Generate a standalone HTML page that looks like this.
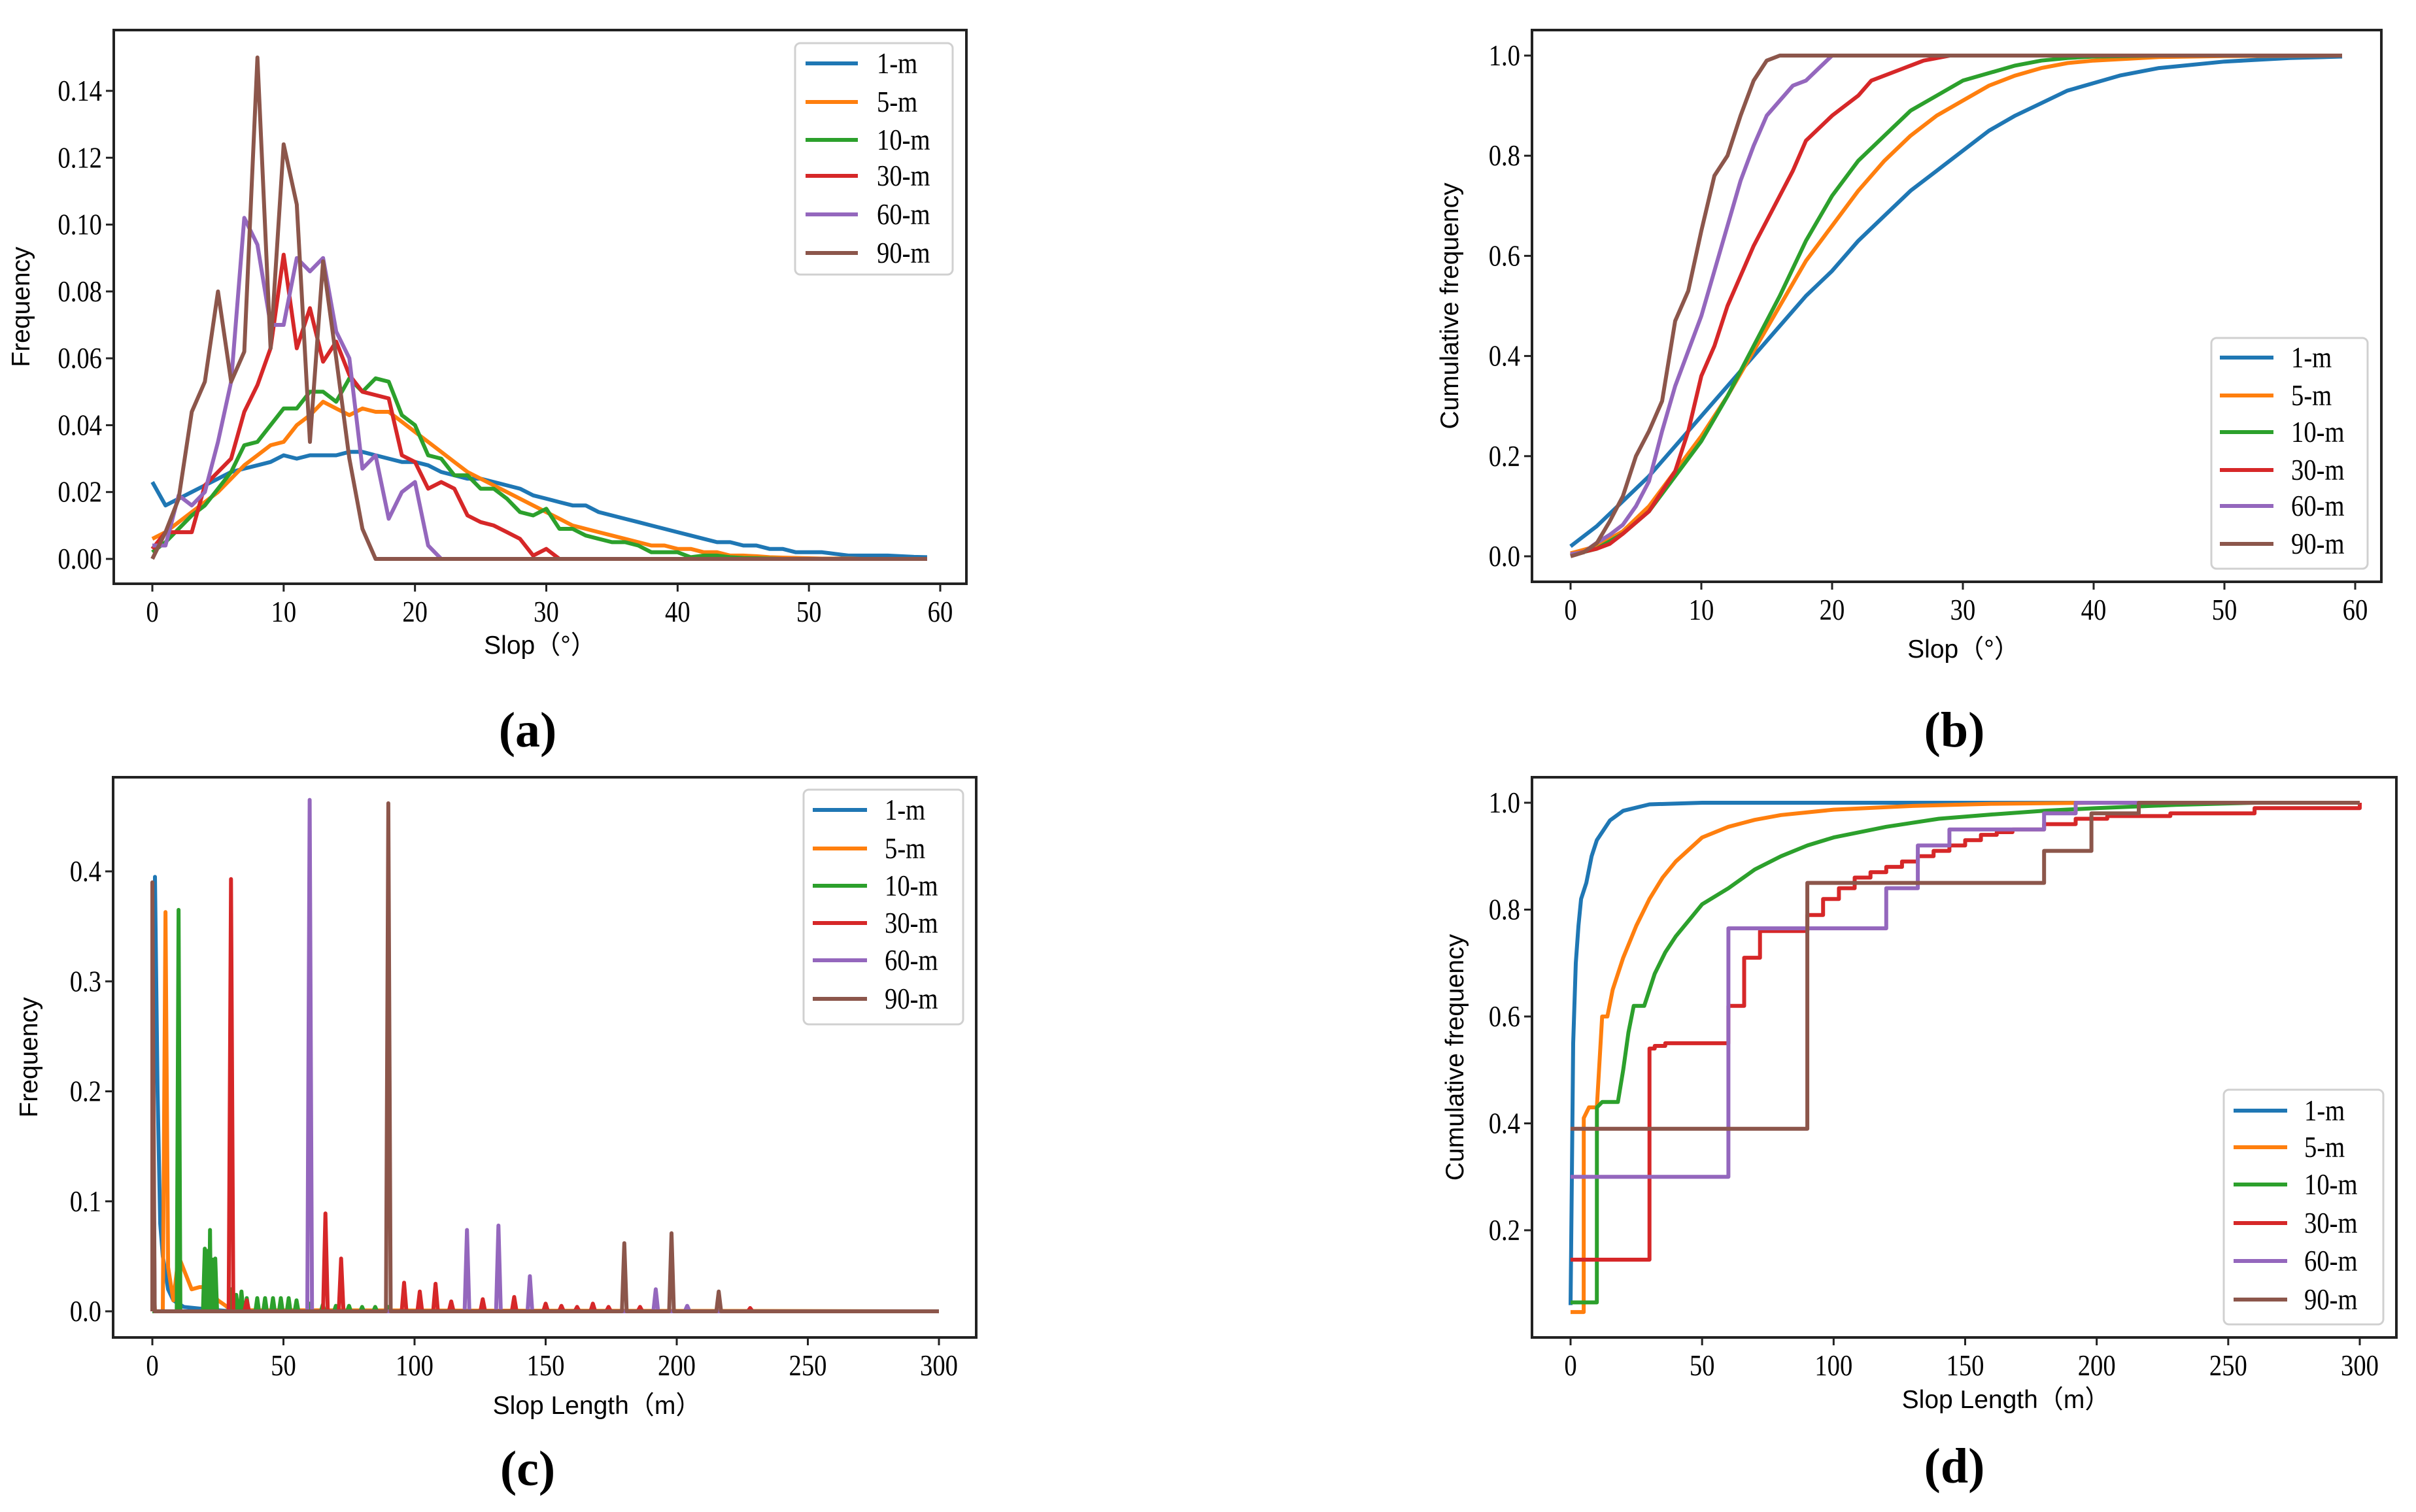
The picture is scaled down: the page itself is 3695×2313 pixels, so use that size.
<!DOCTYPE html>
<html><head><meta charset="utf-8"><style>
html,body{margin:0;padding:0;background:#fff;}
svg{display:block;}
.tk{font-family:"Liberation Serif",serif;font-size:46px;fill:#000;}
.lg{font-family:"Liberation Serif",serif;font-size:46px;fill:#000;}
.al{font-family:"Liberation Sans","Noto Sans CJK SC",sans-serif;font-size:39px;fill:#000;}
.pl{font-family:"Liberation Serif",serif;font-size:76px;font-weight:bold;fill:#000;}
</style></head><body>
<svg id="fig" width="3695" height="2313" viewBox="0 0 3695 2313" xmlns="http://www.w3.org/2000/svg"></svg>
<script>
// ---------- data ----------
const seriesNames = ["1-m","5-m","10-m","30-m","60-m","90-m"];
const colors = ["#1f77b4","#ff7f0e","#2ca02c","#d62728","#9467bd","#8c564b"];

// Panel (a): frequency at slope 0..59
const slopeA = Array.from({length:60},(_,i)=>i);
const freqA1 = [0.023,0.016,0.018,0.020,0.022,0.024,0.026,0.027,0.028,0.029,0.031,0.030,0.031,0.031,0.031,0.032,0.032,0.031,0.030,0.029,0.029,0.028,0.026,0.025,0.024,0.024,0.023,0.022,0.021,0.019,0.018,0.017,0.016,0.016,0.014,0.013,0.012,0.011,0.010,0.009,0.008,0.007,0.006,0.005,0.005,0.004,0.004,0.003,0.003,0.002,0.002,0.002,0.0015,0.001,0.001,0.001,0.001,0.0008,0.0006,0.0005];
const freqA5 = [0.006,0.008,0.011,0.014,0.017,0.020,0.024,0.028,0.031,0.034,0.035,0.040,0.043,0.047,0.045,0.043,0.045,0.044,0.044,0.041,0.038,0.035,0.032,0.029,0.026,0.024,0.022,0.020,0.018,0.016,0.014,0.012,0.010,0.009,0.008,0.007,0.006,0.005,0.004,0.004,0.003,0.003,0.002,0.002,0.001,0.001,0.0008,0.0005,0.0004,0.0003,0.0002,0.0001,0.0001,0.0001,0,0,0,0,0,0];
const freqA10 = [0.002,0.005,0.009,0.013,0.016,0.021,0.026,0.034,0.035,0.040,0.045,0.045,0.050,0.050,0.047,0.054,0.050,0.054,0.053,0.043,0.040,0.031,0.030,0.025,0.025,0.021,0.021,0.018,0.014,0.013,0.015,0.009,0.009,0.007,0.006,0.005,0.005,0.004,0.002,0.002,0.002,0.0005,0.001,0.001,0.0005,0.0003,0.0002,0.0001,0,0,0,0,0,0,0,0,0,0,0,0];
const freqA30 = [0.003,0.008,0.008,0.008,0.022,0.026,0.030,0.044,0.052,0.063,0.091,0.063,0.075,0.059,0.065,0.055,0.050,0.049,0.048,0.031,0.029,0.021,0.023,0.021,0.013,0.011,0.010,0.008,0.006,0.001,0.003,0,0,0,0,0,0,0,0,0,0,0,0,0,0,0,0,0,0,0,0,0,0,0,0,0,0,0,0,0];
const freqA60 = [0.004,0.004,0.019,0.016,0.020,0.035,0.053,0.102,0.094,0.070,0.070,0.090,0.086,0.090,0.068,0.060,0.027,0.031,0.012,0.020,0.023,0.004,0,0,0,0,0,0,0,0,0,0,0,0,0,0,0,0,0,0,0,0,0,0,0,0,0,0,0,0,0,0,0,0,0,0,0,0,0,0];
const freqA90 = [0,0.008,0.018,0.044,0.053,0.080,0.053,0.062,0.150,0.063,0.124,0.106,0.035,0.089,0.060,0.030,0.009,0,0,0,0,0,0,0,0,0,0,0,0,0,0,0,0,0,0,0,0,0,0,0,0,0,0,0,0,0,0,0,0,0,0,0,0,0,0,0,0,0,0,0];

// Panel (b): cumulative frequency vs slope
const cdfB1x = [0,2,4,6,8,10,12,14,16,18,20,22,24,26,28,30,32,34,36,38,40,42,45,50,55,59];
const cdfB1y = [0.02,0.06,0.11,0.16,0.22,0.28,0.34,0.40,0.46,0.52,0.57,0.63,0.68,0.73,0.77,0.81,0.85,0.88,0.905,0.93,0.945,0.96,0.975,0.988,0.995,0.998];
const cdfB5x = [0,2,4,6,8,10,12,14,16,18,20,22,24,26,28,30,32,34,36,38,40,45,50,59];
const cdfB5y = [0.006,0.02,0.05,0.10,0.17,0.24,0.32,0.41,0.50,0.59,0.66,0.73,0.79,0.84,0.88,0.91,0.94,0.96,0.975,0.985,0.99,0.997,0.999,1];
const cdfB10x = [0,2,4,6,8,10,12,14,16,18,20,22,24,26,28,30,32,34,36,38,40,45,59];
const cdfB10y = [0.002,0.015,0.045,0.09,0.16,0.23,0.32,0.42,0.52,0.63,0.72,0.79,0.84,0.89,0.92,0.95,0.965,0.98,0.99,0.995,0.998,1,1];
const cdfB30x = [0,2,3,4,6,8,9,10,11,12,14,16,17,18,20,22,23,25,27,29,59];
const cdfB30y = [0.003,0.015,0.025,0.045,0.09,0.17,0.25,0.36,0.42,0.50,0.62,0.72,0.77,0.83,0.88,0.92,0.95,0.97,0.99,1,1];
const cdfB60x = [0,1,2,3,4,5,6,7,8,9,10,11,12,13,14,15,16,17,18,19,20,59];
const cdfB60y = [0.004,0.008,0.027,0.043,0.063,0.10,0.15,0.25,0.34,0.41,0.48,0.57,0.66,0.75,0.82,0.88,0.91,0.94,0.95,0.975,1,1];
const cdfB90x = [0,1,2,3,4,5,6,7,8,9,10,11,12,13,14,15,16,59];
const cdfB90y = [0,0.008,0.026,0.07,0.12,0.20,0.25,0.31,0.47,0.53,0.65,0.76,0.80,0.88,0.95,0.99,1,1];

// Panel (c): frequency vs slope length (lines / spikes)
const lenC1x = [0,1,2,3,4,6,8,12,20,30,300];
const lenC1y = [0.05,0.395,0.2,0.08,0.05,0.02,0.01,0.004,0.002,0,0];
const lenC5x = [0,1,4,5,6,8,10,15,18,20,22,25,28,30,300];
const lenC5y = [0.05,0,0,0.363,0.04,0.01,0.05,0.02,0.022,0.022,0.02,0.01,0.005,0.001,0];
const peakC10x = [10,20,21,22,23,24,30,32,34,36,40,43,46,49,52,55,60,65,70,75,80,85,90];
const peakC10y = [0.365,0.057,0.055,0.074,0.047,0.048,0.02,0.015,0.018,0.012,0.012,0.012,0.012,0.012,0.012,0.01,0.007,0.006,0.005,0.005,0.004,0.004,0.004];
const peakC30x = [0,30,36,66,72,96,102,108,114,126,138,150,156,162,168,174,186,228];
const peakC30y = [0.145,0.393,0.01,0.089,0.048,0.026,0.018,0.025,0.009,0.011,0.013,0.007,0.005,0.004,0.007,0.004,0.004,0.003];
const peakC60x = [0,60,120,132,144,192,204];
const peakC60y = [0.30,0.465,0.074,0.078,0.032,0.02,0.005];
const peakC90x = [0,90,180,198,216];
const peakC90y = [0.39,0.462,0.062,0.071,0.018];

// Panel (d): cumulative frequency vs slope length
const cdfD1x = [0,0.5,1,2,3,4,6,8,10,15,20,30,50,300];
const cdfD1y = [0.06,0.3,0.55,0.7,0.77,0.82,0.85,0.9,0.93,0.967,0.985,0.997,1,1];
const cdfD5x = [0,5,5.01,7,10,12,14,16,20,25,30,35,40,50,60,70,80,100,130,160,200,300];
const cdfD5y = [0.047,0.047,0.41,0.43,0.43,0.6,0.6,0.65,0.71,0.77,0.82,0.86,0.89,0.935,0.955,0.968,0.977,0.987,0.994,0.998,1,1];
const cdfD10x = [0,10,10.01,12,18,20,22,24,28,30,32,36,40,45,50,60,70,80,90,100,120,140,160,180,200,230,260,300];
const cdfD10y = [0.065,0.065,0.43,0.44,0.44,0.5,0.57,0.62,0.62,0.65,0.68,0.72,0.75,0.78,0.81,0.84,0.875,0.9,0.92,0.935,0.955,0.97,0.978,0.985,0.99,0.996,1,1];
const stepD30x = [0,30,32,36,60,66,72,90,96,102,108,114,120,126,132,138,144,150,156,162,168,180,192,204,228,260,300];
const stepD30y = [0.145,0.54,0.545,0.55,0.62,0.71,0.76,0.79,0.82,0.84,0.86,0.87,0.88,0.89,0.9,0.91,0.92,0.93,0.94,0.945,0.95,0.96,0.97,0.975,0.98,0.99,1];
const stepD60x = [0,60,120,132,144,180,192,300];
const stepD60y = [0.3,0.765,0.84,0.92,0.95,0.98,1,1];
const stepD90x = [0,90,180,198,216,300];
const stepD90y = [0.39,0.85,0.91,0.98,1,1];

// ---------- drawing ----------
const NS = "http://www.w3.org/2000/svg";
const svg = document.getElementById("fig");
function el(tag, attrs, parent){ const e=document.createElementNS(NS,tag); for(const k in attrs) e.setAttribute(k,attrs[k]); (parent||svg).appendChild(e); return e; }
function lin(d0,d1,r0,r1){ return v=>r0+(v-d0)/(d1-d0)*(r1-r0); }
function spikes(px,py,w){ const pts=[[0,0]]; px.forEach((x,i)=>{pts.push([Math.max(0,x-w),0]);pts.push([x,py[i]]);pts.push([x+w,0]);}); pts.push([300,0]); pts.sort((a,b)=>a[0]-b[0]); return pts; }
function steps(sx,sy){ const pts=[]; for(let i=0;i<sx.length;i++){ if(i>0) pts.push([sx[i],sy[i-1]]); pts.push([sx[i],sy[i]]); } return pts; }
function zip(xs,ys){ return xs.map((x,i)=>[x,ys[i]]); }
function ctext(parent,cls,x,y,anchor,str){ const t=el("text",{x:0,y:0,"text-anchor":anchor,class:cls,transform:"translate("+x+","+y+") scale(0.84,1)"},parent); t.textContent=str; return t; }

const panels = [
 {id:"a", box:[174,46,1478,893], xd:[0,60], xr:[233,1438], yd:[0,0.14], yr:[855,139], xt:[0,10,20,30,40,50,60], yt:[0,0.02,0.04,0.06,0.08,0.10,0.12,0.14], yf:2,
  ylab:"Frequency", ylx:45, xlab:"Slop（°）", xlx:826, xly:1000, pl:"(a)", plx:807, ply:1142,
  leg:[1216,66,1457,420], legY:[97,156,214,269,328,387], legL:[1232,1312], legT:1341,
  series:[zip(slopeA,freqA1),zip(slopeA,freqA5),zip(slopeA,freqA10),zip(slopeA,freqA30),zip(slopeA,freqA60),zip(slopeA,freqA90)]},
 {id:"b", box:[2343,46,3642,890], xd:[0,60], xr:[2402,3602], yd:[0,1], yr:[851,85], xt:[0,10,20,30,40,50,60], yt:[0,0.2,0.4,0.6,0.8,1.0], yf:1,
  ylab:"Cumulative frequency", ylx:2230, xlab:"Slop（°）", xlx:3003, xly:1006, pl:"(b)", plx:2989, ply:1142,
  leg:[3382,517,3621,870], legY:[547,605,661,719,774,832], legL:[3395,3477], legT:3504,
  series:[zip(cdfB1x,cdfB1y),zip(cdfB5x,cdfB5y),zip(cdfB10x,cdfB10y),zip(cdfB30x,cdfB30y),zip(cdfB60x,cdfB60y),zip(cdfB90x,cdfB90y)]},
 {id:"c", box:[173,1189,1493,2046], xd:[0,300], xr:[233,1436], yd:[0,0.4], yr:[2006,1333], xt:[0,50,100,150,200,250,300], yt:[0,0.1,0.2,0.3,0.4], yf:1,
  ylab:"Frequency", ylx:57, xlab:"Slop Length（m）", xlx:913, xly:2163, pl:"(c)", plx:807, ply:2272,
  leg:[1229,1208,1473,1567], legY:[1239,1298,1355,1412,1469,1528], legL:[1243,1326], legT:1353,
  series:[zip(lenC1x,lenC1y),zip(lenC5x,lenC5y),spikes(peakC10x,peakC10y,0.7),spikes(peakC30x,peakC30y,0.9),spikes(peakC60x,peakC60y,0.9),spikes(peakC90x,peakC90y,0.9)]},
 {id:"d", box:[2343,1189,3665,2046], xd:[0,300], xr:[2402,3609], yd:[0.2,1], yr:[1882,1228], xt:[0,50,100,150,200,250,300], yt:[0.2,0.4,0.6,0.8,1.0], yf:1,
  ylab:"Cumulative frequency", ylx:2238, xlab:"Slop Length（m）", xlx:3068, xly:2154, pl:"(d)", plx:2989, ply:2268,
  leg:[3401,1667,3645,2026], legY:[1699,1755,1812,1871,1929,1988], legL:[3416,3498], legT:3524,
  series:[zip(cdfD1x,cdfD1y),zip(cdfD5x,cdfD5y),zip(cdfD10x,cdfD10y),steps(stepD30x,stepD30y),steps(stepD60x,stepD60y),steps(stepD90x,stepD90y)]}
];

panels.forEach(p=>{
  const [x0,y0,x1,y1]=p.box;
  const sx=lin(p.xd[0],p.xd[1],p.xr[0],p.xr[1]);
  const sy=lin(p.yd[0],p.yd[1],p.yr[0],p.yr[1]);
  const g=el("g",{});
  
  
  const defs=el("defs",{},g);
  const cp=el("clipPath",{id:"clip-"+p.id},defs);
  el("rect",{x:x0,y:y0,width:x1-x0,height:y1-y0},cp);
  const sg=el("g",{"clip-path":"url(#clip-"+p.id+")"},g);
  p.series.forEach((pts,i)=>{
    const d=pts.map((q,j)=>(j?"L":"M")+sx(q[0]).toFixed(1)+","+sy(q[1]).toFixed(1)).join("");
    const path=el("path",{d:d,fill:"none",stroke:colors[i],"stroke-width":6,"stroke-linejoin":"round"},sg);
    
    
  });
  const fr=el("rect",{x:x0,y:y0,width:x1-x0,height:y1-y0,fill:"none",stroke:"#222","stroke-width":4},g);
  
  
  p.xt.forEach(v=>{
    const x=sx(v);
    el("line",{x1:x,y1:y1,x2:x,y2:y1+12,stroke:"#222","stroke-width":3},g);
    const t=ctext(g,"tk",x,y1+58,"middle",String(v));
    
    
  });
  p.yt.forEach(v=>{
    const y=sy(v);
    el("line",{x1:x0,y1:y,x2:x0-12,y2:y,stroke:"#222","stroke-width":3},g);
    const t=ctext(g,"tk",x0-18,y+15,"end",v.toFixed(p.yf));
    
    
  });
  const yl=el("text",{x:0,y:0,"text-anchor":"middle",class:"al",transform:"translate("+p.ylx+","+((y0+y1)/2)+") rotate(-90)"},g);
  yl.textContent=p.ylab;
  
  
  const xl=el("text",{x:p.xlx,y:p.xly,"text-anchor":"middle",class:"al"},g);
  xl.textContent=p.xlab;
  
  
  const pl=el("text",{x:p.plx,y:p.ply,"text-anchor":"middle",class:"pl"},g);
  pl.textContent=p.pl;
  
  
  const lg=el("g",{},g);
  
  
  const [lx0,ly0,lx1,ly1]=p.leg;
  el("rect",{x:lx0,y:ly0,width:lx1-lx0,height:ly1-ly0,rx:8,fill:"#fff",stroke:"#d0d0d0","stroke-width":3},lg);
  seriesNames.forEach((n,i)=>{
    const ey=p.legY[i];
    const ent=el("g",{},lg);
    
    
    el("line",{x1:p.legL[0],y1:ey,x2:p.legL[1],y2:ey,stroke:colors[i],"stroke-width":6},ent);
    ctext(ent,"lg",p.legT,ey+15,"start",n);
  });
});
</script>
</body></html>
